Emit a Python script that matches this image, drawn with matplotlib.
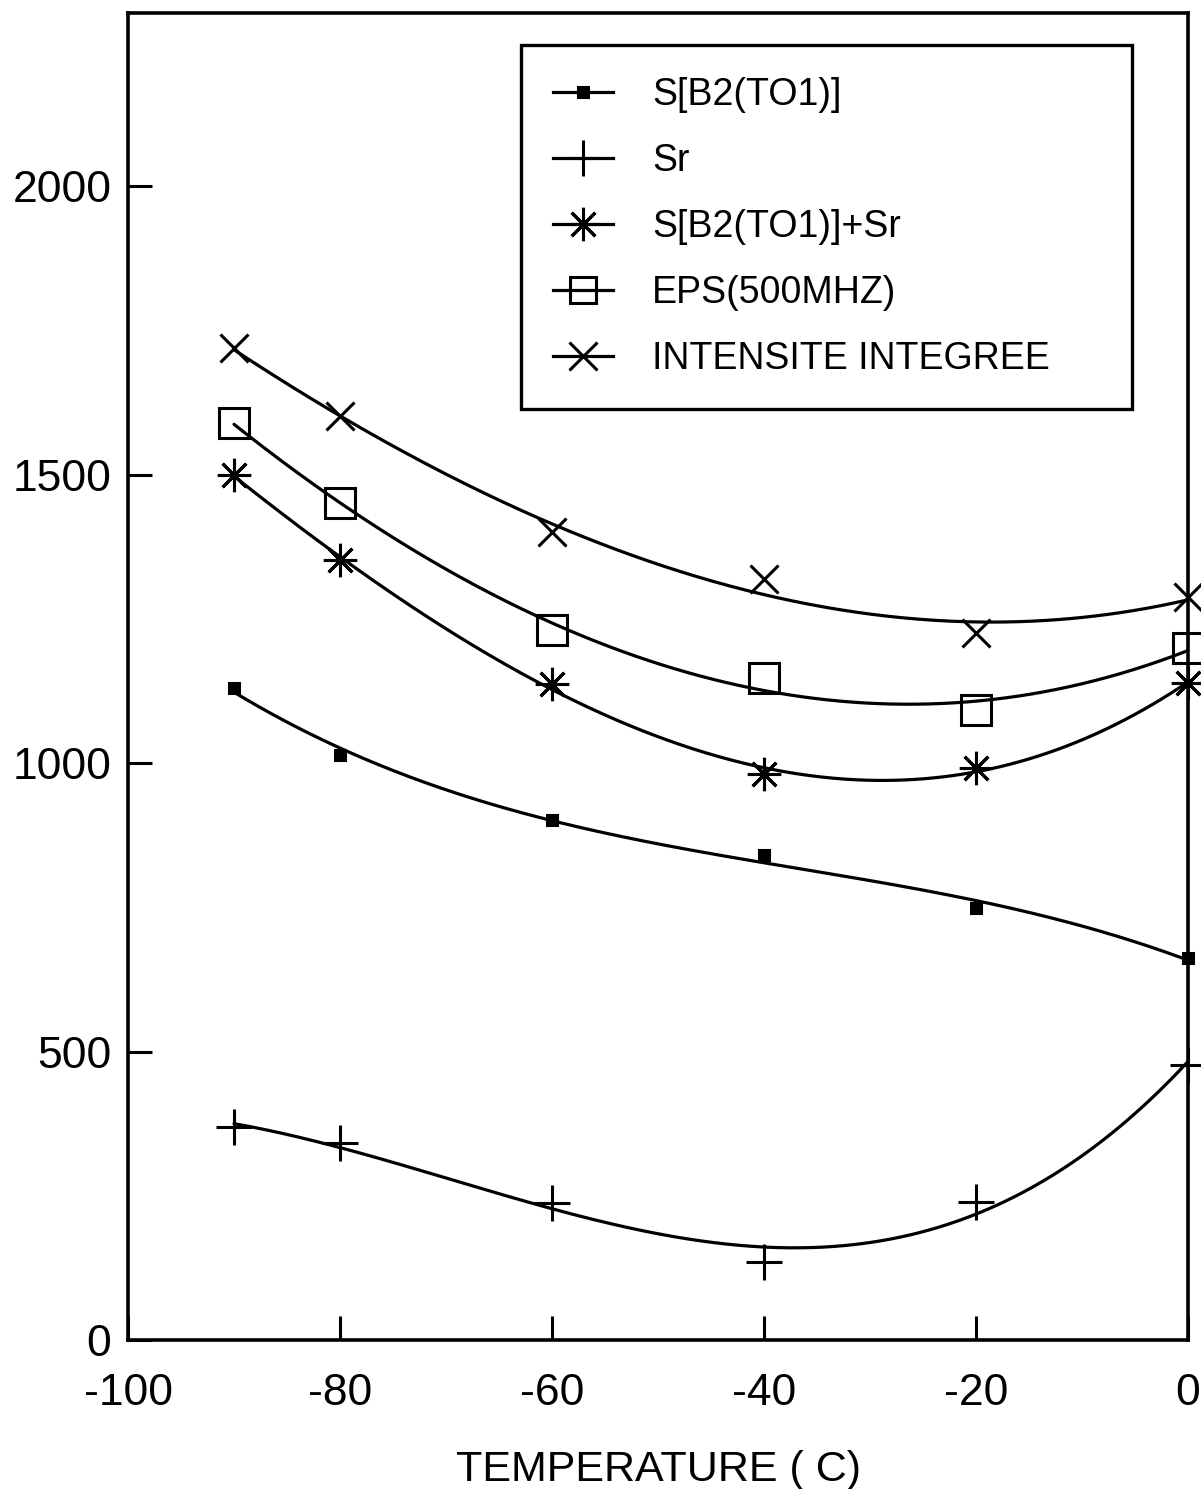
import numpy as np
import matplotlib
matplotlib.use("Agg")
import matplotlib.pyplot as plt
from matplotlib.lines import Line2D

plt.rcParams['font.family'] = ['Liberation Sans', 'DejaVu Sans']

temperature = [-90, -80, -60, -40, -20, 0]
s_b2_to1 = [1130, 1014, 901, 840, 749, 662]
sr = [369, 341, 237, 135, 239, 477]
s_plus_sr = [1499, 1352, 1137, 981, 991, 1139]
eps_500mhz = [1589, 1451, 1231, 1147, 1092, 1199]
intensite = [1719, 1601, 1400, 1319, 1225, 1288]

labels = ["S[B2(TO1)]", "Sr", "S[B2(TO1)]+Sr", "EPS(500MHZ)", "INTENSITE INTEGREE"]
series = [s_b2_to1, sr, s_plus_sr, eps_500mhz, intensite]
markers = ['s', '+', (8, 2, 0), 's', 'x']
msizes = [7, 26, 24, 22, 20]
mfcs = ['black', 'none', 'none', 'none', 'none']

xticks = [-100, -80, -60, -40, -20, 0]
yticks = [0, 500, 1000, 1500, 2000]

fig = plt.figure(figsize=(12.01, 14.89), dpi=100)
ax = fig.add_axes([128/1201, 1 - 1340/1489, (1188-128)/1201, (1340-13)/1489])

x = np.array(temperature, dtype=float)
xs = np.linspace(x.min(), x.max(), 300)
handles = []
for vals, lab, mk, ms, mfc in zip(series, labels, markers, msizes, mfcs):
    y = np.array(vals, dtype=float)
    coef = np.polyfit(x, y, 3)
    ax.plot(xs, np.polyval(coef, xs), color='black', lw=2.3, solid_capstyle='round')
    ax.plot(x, y, ls='none', marker=mk, ms=ms, mfc=mfc, mec='black', mew=2.2, color='black',
            clip_on=False)
    handles.append(Line2D([], [], color='black', lw=2.3, marker=mk,
                          ms=(ms if mk != 's' or mfc != 'none' else 19), mfc=mfc,
                          mec='black', mew=2.2))

ax.set_xlim(-100, 0)
ax.set_ylim(0, 2300)
ax.set_xticks(xticks)
ax.set_yticks(yticks)
ax.set_xticklabels([str(t) for t in xticks])
ax.set_yticklabels([str(t) for t in yticks])
ax.tick_params(axis='both', direction='in', length=17, width=2.2, labelsize=32)
ax.tick_params(axis='x', pad=24)
ax.tick_params(axis='y', pad=12)
for sp in ax.spines.values():
    sp.set_linewidth(2.6)
ax.set_xlabel("TEMPERATURE ( C)", fontsize=31, labelpad=26)

leg = fig.legend(handles, labels, loc='upper left',
                 bbox_to_anchor=(521/1201, 1 - 45/1489 - 0.01, (1132-521)/1201, 0.01),
                 mode='expand', fontsize=27, frameon=True, fancybox=False,
                 edgecolor='black', framealpha=1, borderpad=0.85,
                 handlelength=1.6, handletextpad=1.05, labelspacing=0.8,
                 borderaxespad=0)
leg.get_frame().set_linewidth(2.4)

fig.savefig("out.png", dpi=100)
